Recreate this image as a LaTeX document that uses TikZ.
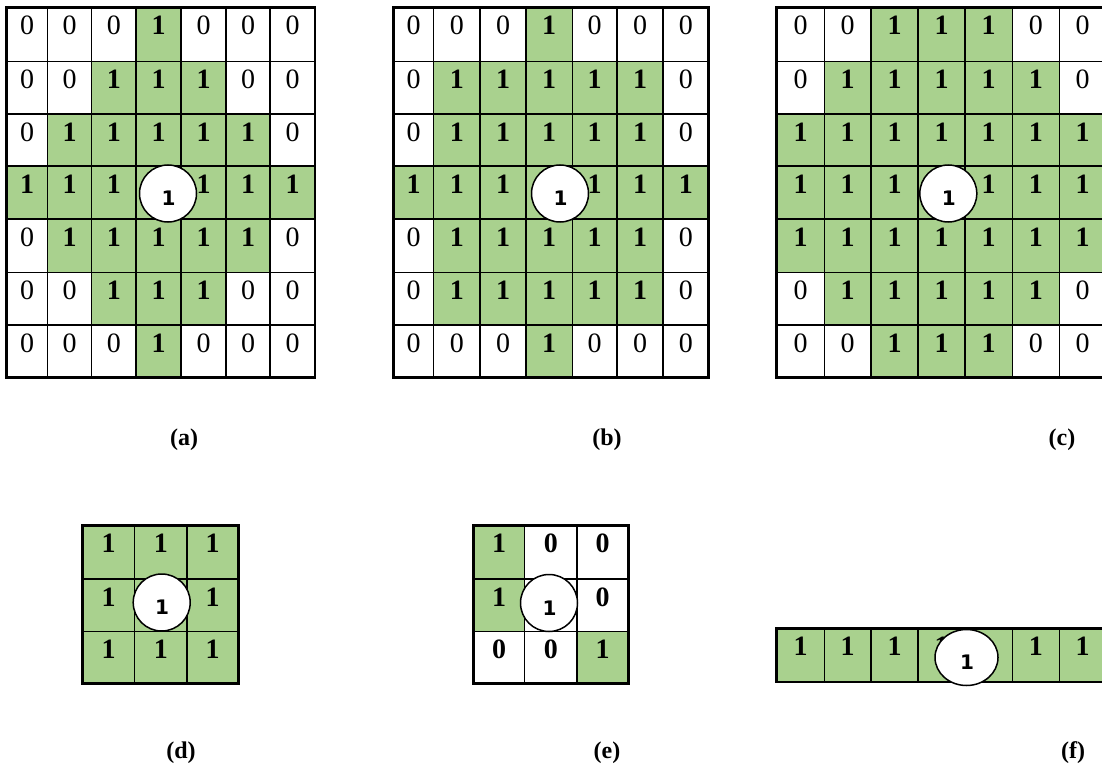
\documentclass[tikz,border=0pt]{standalone}
\usepackage{fontspec}
\setmainfont{Liberation Serif}
\newfontfamily\circfont{DejaVu Sans}
\usetikzlibrary{shapes.geometric}
\definecolor{cellgreen}{HTML}{A9D18E}
\tikzset{
  on/.style={fill=cellgreen},
  digit/.style={font=\fontsize{28}{28}\selectfont, inner sep=0pt, anchor=center},
  bdigit/.style={font=\fontsize{28}{28}\selectfont\bfseries, inner sep=0pt, anchor=center},
  gridline/.style={line width=1.5pt},
  frame/.style={line width=2.6pt},
  ring/.style={circle, draw, line width=1.5pt, fill=white, minimum size=57pt, inner sep=0pt},
  oval/.style={ellipse, draw, line width=1.5pt, fill=white, minimum width=63pt, minimum height=56pt, inner sep=0pt},
  ringtext/.style={font=\circfont\bfseries\fontsize{20}{20}\selectfont, inner sep=0pt},
  caption/.style={font=\fontsize{24}{24}\selectfont\bfseries, inner sep=0pt},
}
% one row of cells: #1 prefix, #2 x array, #3 y array, #4 row index, #5 values
% values: 1 = green bold 1, g = green without digit, 0 = plain 0, b = bold 0, n = empty white
\newcommand\mkrow[5]{%
  \foreach \v [count=\c from 0] in {#5} {
    \pgfmathsetmacro\xl{#2[\c]}
    \pgfmathsetmacro\xr{#2[\c+1]}
    \pgfmathsetmacro\yt{#3[#4]}
    \pgfmathsetmacro\yb{#3[#4+1]}
    \pgfmathsetmacro\xm{(\xl+\xr)/2}
    \pgfmathsetmacro\ym{\yt+18}
    \if\v1
      \fill[on] (\xl,\yt) rectangle (\xr,\yb);
      \node[bdigit] (#1-#4-\c) at (\xm,\ym) {1};
    \fi
    \if\v g
      \fill[on] (\xl,\yt) rectangle (\xr,\yb);
    \fi
    \if\v0
      \node[digit] (#1-#4-\c) at (\xm,\ym) {0};
    \fi
    \if\v b
      \node[bdigit] (#1-#4-\c) at (\xm,\ym) {0};
    \fi
  }
}
% grid lines: #1 x array, #2 y array, #3 ncols, #4 nrows
\newcommand\mklines[4]{%
  \pgfmathsetmacro\ytop{#2[0]}
  \pgfmathsetmacro\ybot{#2[#4]}
  \pgfmathsetmacro\xlft{#1[0]}
  \pgfmathsetmacro\xrgt{#1[#3]}
  \foreach \i in {0,...,#3} {
    \pgfmathsetmacro\xx{#1[\i]}
    \draw[gridline] (\xx,\ytop) -- (\xx,\ybot);
  }
  \foreach \i in {0,...,#4} {
    \pgfmathsetmacro\yy{#2[\i]}
    \draw[gridline] (\xlft,\yy) -- (\xrgt,\yy);
  }
  \draw[frame] (\xlft,\ytop) rectangle (\xrgt,\ybot);
}
\def\xA{{6.7,47.5,91.7,136,181,226,270,315}}
\def\xB{{393.3,433.7,480,526,572.3,617,663,708.7}}
\def\xC{{776.7,824.3,871,918,965,1012.3,1059.3,1106}}
\def\yT{{7.7,61.3,114,166,219,272.7,325,377.7}}
\def\xD{{82.7,134.7,187,238.3}}
\def\xE{{473.3,524.7,577,628.3}}
\def\yD{{525.7,579,631.7,683.3}}
\def\yF{{628.7,682}}
\begin{document}
\begin{tikzpicture}[x=1pt,y=-1pt]
\useasboundingbox[fill=white] (0,0) rectangle (1102,767);
% (a)
\mkrow{a}{\xA}{\yT}{0}{0,0,0,1,0,0,0}
\mkrow{a}{\xA}{\yT}{1}{0,0,1,1,1,0,0}
\mkrow{a}{\xA}{\yT}{2}{0,1,1,1,1,1,0}
\mkrow{a}{\xA}{\yT}{3}{1,1,1,g,1,1,1}
\mkrow{a}{\xA}{\yT}{4}{0,1,1,1,1,1,0}
\mkrow{a}{\xA}{\yT}{5}{0,0,1,1,1,0,0}
\mkrow{a}{\xA}{\yT}{6}{0,0,0,1,0,0,0}
\mklines{\xA}{\yT}{7}{7}
\node[ring] (ca) at (168,193.5) {};
\node[ringtext] (ta) at (168.5,198.5) {1};
% (b)
\mkrow{b}{\xB}{\yT}{0}{0,0,0,1,0,0,0}
\mkrow{b}{\xB}{\yT}{1}{0,1,1,1,1,1,0}
\mkrow{b}{\xB}{\yT}{2}{0,1,1,1,1,1,0}
\mkrow{b}{\xB}{\yT}{3}{1,1,1,g,1,1,1}
\mkrow{b}{\xB}{\yT}{4}{0,1,1,1,1,1,0}
\mkrow{b}{\xB}{\yT}{5}{0,1,1,1,1,1,0}
\mkrow{b}{\xB}{\yT}{6}{0,0,0,1,0,0,0}
\mklines{\xB}{\yT}{7}{7}
\node[ring] (cb) at (560,193.5) {};
\node[ringtext] (tb) at (560.5,198.5) {1};
% (c)
\mkrow{c}{\xC}{\yT}{0}{0,0,1,1,1,0,0}
\mkrow{c}{\xC}{\yT}{1}{0,1,1,1,1,1,0}
\mkrow{c}{\xC}{\yT}{2}{1,1,1,1,1,1,1}
\mkrow{c}{\xC}{\yT}{3}{1,1,1,g,1,1,1}
\mkrow{c}{\xC}{\yT}{4}{1,1,1,1,1,1,1}
\mkrow{c}{\xC}{\yT}{5}{0,1,1,1,1,1,0}
\mkrow{c}{\xC}{\yT}{6}{0,0,1,1,1,0,0}
\mklines{\xC}{\yT}{7}{7}
\node[ring] (cc) at (948.3,193.5) {};
\node[ringtext] (tc) at (948.8,198.5) {1};
% (d)
\mkrow{d}{\xD}{\yD}{0}{1,1,1}
\mkrow{d}{\xD}{\yD}{1}{1,g,1}
\mkrow{d}{\xD}{\yD}{2}{1,1,1}
\mklines{\xD}{\yD}{3}{3}
\node[ring] (cd) at (161.7,602.5) {};
\node[ringtext] (td) at (162.2,607.5) {1};
% (e)
\mkrow{e}{\xE}{\yD}{0}{1,b,b}
\mkrow{e}{\xE}{\yD}{1}{1,n,b}
\mkrow{e}{\xE}{\yD}{2}{b,b,1}
\mklines{\xE}{\yD}{3}{3}
\node[ring] (ce) at (549,603) {};
\node[ringtext] (te) at (549.5,608) {1};
% (f)
\mkrow{f}{\xC}{\yF}{0}{1,1,1,1,g,1,1}
\mklines{\xC}{\yF}{7}{1}
\node[oval] (cf) at (966.5,657.5) {};
\node[ringtext] (tf) at (967,662) {1};
% captions
\node[caption] (la) at (184,440) {(a)};
\node[caption] (lb) at (607,440) {(b)};
\node[caption] (lc) at (1062,440) {(c)};
\node[caption] (ld) at (181,753) {(d)};
\node[caption] (le) at (607,753) {(e)};
\node[caption] (lf) at (1073,753) {(f)};
\end{tikzpicture}
\end{document}
